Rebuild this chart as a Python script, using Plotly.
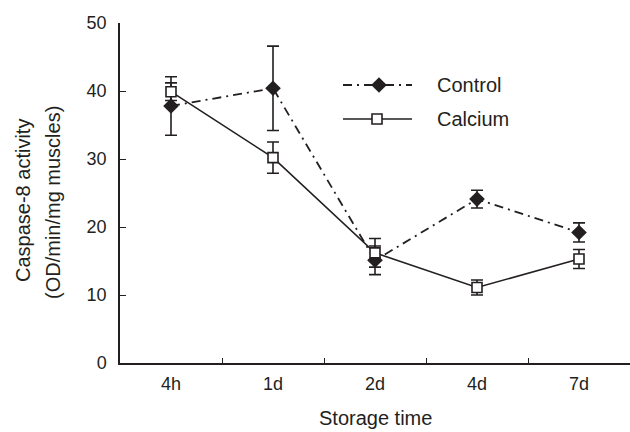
import plotly.graph_objects as go

categories = ["4h", "1d", "2d", "4d", "7d"]
control = [37.8, 40.4, 15.1, 24.1, 19.2]
control_err = [4.3, 6.2, 2.1, 1.3, 1.4]
calcium = [39.9, 30.2, 16.2, 11.1, 15.3]
calcium_err = [1.3, 2.3, 2.1, 1.1, 1.4]
series_names = ["Control", "Calcium"]

ink = "#231f20"
font = "Liberation Sans, Arial, Helvetica, sans-serif"
ctrl_dash = "9px,5px,2px,5px"

# plot area in page pixels: x 120..630, y 23..363
def px(x):
    return (x - 120) / 510

def py(y):
    return (363 - y) / 340

fig = go.Figure()
fig.add_trace(go.Scatter(
    x=categories, y=control, name=series_names[0], mode="lines+markers",
    line=dict(color=ink, width=1.8, dash=ctrl_dash),
    marker=dict(symbol="diamond", size=12, color=ink),
    error_y=dict(type="data", array=control_err, color=ink, thickness=1.6, width=6),
    showlegend=False,
))
fig.add_trace(go.Scatter(
    x=categories, y=calcium, name=series_names[1], mode="lines+markers",
    line=dict(color=ink, width=1.6),
    marker=dict(symbol="square", size=10, color="white", line=dict(color=ink, width=1.6)),
    error_y=dict(type="data", array=calcium_err, color=ink, thickness=1.6, width=6),
    showlegend=False,
))

# Legend drawn on an overlay axis measured in page pixels
fig.add_trace(go.Scatter(
    x=[343, 379, 412], y=[85, 85, 85], xaxis="x2", yaxis="y2", mode="lines",
    line=dict(color=ink, width=1.8, dash=ctrl_dash), showlegend=False, hoverinfo="skip"))
fig.add_trace(go.Scatter(
    x=[379], y=[85], xaxis="x2", yaxis="y2", mode="markers",
    marker=dict(symbol="diamond", size=12, color=ink), showlegend=False, hoverinfo="skip"))
fig.add_trace(go.Scatter(
    x=[343, 377, 412], y=[119, 119, 119], xaxis="x2", yaxis="y2", mode="lines",
    line=dict(color=ink, width=1.6), showlegend=False, hoverinfo="skip"))
fig.add_trace(go.Scatter(
    x=[377], y=[119], xaxis="x2", yaxis="y2", mode="markers",
    marker=dict(symbol="square", size=10, color="white", line=dict(color=ink, width=1.6)),
    showlegend=False, hoverinfo="skip"))

annotations = [
    dict(text=series_names[0], x=px(435), y=py(85), xref="paper", yref="paper",
         xanchor="left", yanchor="middle", showarrow=False, font=dict(size=20)),
    dict(text=series_names[1], x=px(435), y=py(119), xref="paper", yref="paper",
         xanchor="left", yanchor="middle", showarrow=False, font=dict(size=20)),
    dict(text="Caspase-8 activity", x=px(23), y=py(201), xref="paper", yref="paper", textangle=-90,
         xanchor="center", yanchor="middle", showarrow=False, font=dict(size=20)),
    dict(text="(OD/min/mg muscles)", x=px(53), y=py(203), xref="paper", yref="paper", textangle=-90,
         xanchor="center", yanchor="middle", showarrow=False, font=dict(size=20)),
    dict(text="Storage time", x=px(375), y=py(431), xref="paper", yref="paper",
         xanchor="center", yanchor="bottom", showarrow=False, font=dict(size=20)),
]

fig.update_layout(
    width=630, height=432,
    margin=dict(l=120, r=0, t=23, b=69),
    paper_bgcolor="white", plot_bgcolor="white",
    font=dict(family=font, size=18, color=ink),
    showlegend=False,
    annotations=annotations,
    xaxis=dict(
        type="category", range=[-0.5, 4.5],
        showline=True, linecolor=ink, linewidth=1.5,
        ticks="inside", ticklen=5, tickwidth=1.2, tickcolor=ink,
        tickson="boundaries", showgrid=False, zeroline=False,
        tickfont=dict(size=18), ticklabelstandoff=4,
    ),
    yaxis=dict(
        range=[0, 50], tickvals=[0, 10, 20, 30, 40, 50],
        showline=True, linecolor=ink, linewidth=1.5,
        ticks="inside", ticklen=6, tickwidth=1.2, tickcolor=ink,
        showgrid=False, zeroline=False,
        tickfont=dict(size=18), ticklabelstandoff=8,
    ),
    xaxis2=dict(overlaying="x", range=[120, 630], visible=False, fixedrange=True),
    yaxis2=dict(overlaying="y", range=[363, 23], visible=False, fixedrange=True),
)

fig.write_html("out.html")
